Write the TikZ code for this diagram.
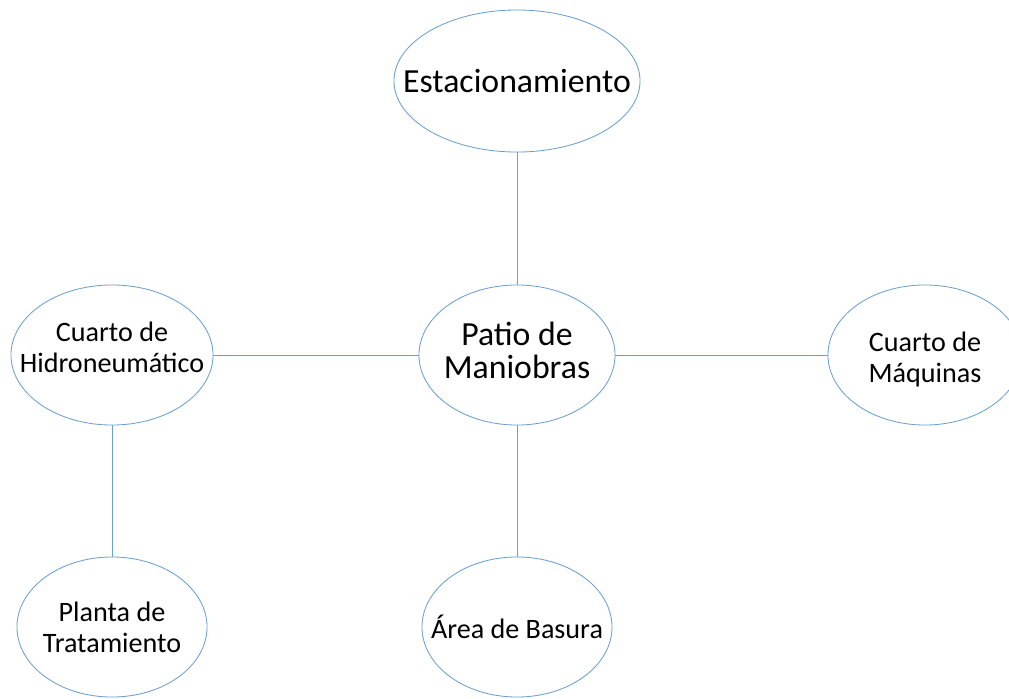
\documentclass[tikz,border=0pt]{standalone}
\usepackage{fontspec}
\setmainfont{Carlito}
\usetikzlibrary{shapes.geometric}
\definecolor{linkblue}{HTML}{6A9FD0}
\begin{document}
\begin{tikzpicture}[x=0.025cm,y=-0.025cm,
    area/.style={ellipse,draw=linkblue,line width=0.6pt,inner sep=0pt,
        minimum height=3.5cm},
    big/.style={font=\fontsize{24}{23.5}\selectfont,align=center},
    small/.style={font=\fontsize{20}{22}\selectfont,align=center},
    link/.style={draw=linkblue,line width=0.6pt}]
    \useasboundingbox (0,0) rectangle (1009,699);
    \node[area,minimum width=6.15cm,minimum height=3.55cm,
        label={[big]center:Estacionamiento}] (est) at (517,81) {};
    \node[area,minimum width=4.9cm,
        label={[big,yshift=0.12cm]center:Patio de\\Maniobras}] (patio) at (517,355) {};
    \node[area,minimum width=5.05cm,
        label={[small,yshift=0.2cm]center:Cuarto de\\Hidroneumático}] (hidro) at (112,355) {};
    \node[area,minimum width=4.85cm,
        label={[small,yshift=-0.12cm]center:Cuarto de\\Máquinas}] (maq) at (925,355) {};
    \node[area,minimum width=4.75cm,
        label={[small]center:Planta de\\Tratamiento}] (planta) at (112,627) {};
    \node[area,minimum width=4.75cm,
        label={[small]center:Área de Basura}] (basura) at (517,627) {};
    \draw[link] (est) -- (patio);
    \draw[link] (hidro) -- (patio);
    \draw[link] (patio) -- (maq);
    \draw[link] (patio) -- (basura);
    \draw[link] (hidro) -- (planta);
\end{tikzpicture}
\end{document}
